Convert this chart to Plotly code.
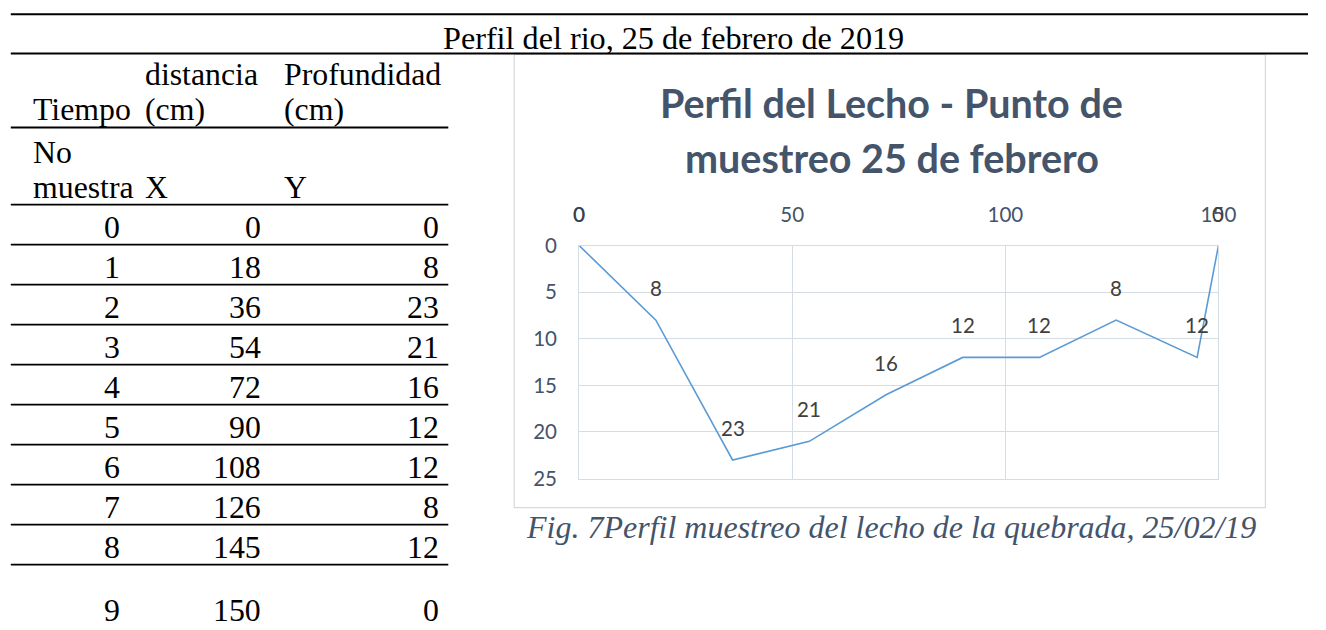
import plotly.graph_objects as go

# ---------------- data ----------------
muestra = [0, 1, 2, 3, 4, 5, 6, 7, 8, 9]
distancia = [0, 18, 36, 54, 72, 90, 108, 126, 145, 150]
profundidad = [0, 8, 23, 21, 16, 12, 12, 8, 12, 0]
x_ticks = [0, 50, 100, 150]
y_ticks = [0, 5, 10, 15, 20, 25]

page_title = "Perfil del rio, 25 de febrero de 2019"
chart_title_lines = ["Perfil del Lecho - Punto de", "muestreo 25 de febrero"]
caption = "Fig. 7Perfil muestreo del lecho de la quebrada, 25/02/19"
header_lines = [
    ["", "distancia", "Profundidad"],
    ["Tiempo", "(cm)", "(cm)"],
    ["No", "", ""],
    ["muestra", "X", "Y"],
]

# ---------------- layout constants ----------------
W, H = 1326, 630
# measured mapping page -> photographed picture (picture = A * page + B)
A_X, B_X = 0.983, 5.2
A_Y, B_Y = 0.9617, 13.5
SERIF = "Liberation Serif, Times New Roman, serif"
SANS = "Lato, Carlito, Calibri, sans-serif"
SLATE = "#44546A"
LABEL = "#404040"
GRID = "#D6DCE4"
LINE_BLUE = "#5B9BD5"


def px(x):
    return ((x - B_X) / A_X) / W


def py(y):
    return 1 - ((y - B_Y) / A_Y) / H


fig = go.Figure()

# ---- chart ----
fig.add_trace(go.Scatter(
    x=distancia, y=profundidad, mode="lines",
    line=dict(color=LINE_BLUE, width=1.6),
    hoverinfo="x+y", showlegend=False,
))

annotations = []
for xv, yv in zip(distancia, profundidad):
    annotations.append(dict(
        x=xv, y=yv, xref="x", yref="y", text=str(yv), showarrow=False,
        yshift=32, xanchor="center", yanchor="middle",
        font=dict(family=SANS, size=20.5, color=LABEL),
    ))

for i, line in enumerate(chart_title_lines):
    annotations.append(dict(
        x=px(892), y=py(103 + 55 * i), xref="paper", yref="paper",
        text=line, showarrow=False, xanchor="center", yanchor="middle",
        font=dict(family=SANS, size=39.5, color=SLATE, weight="bold"),
    ))

annotations.append(dict(
    x=px(891), y=py(527), xref="paper", yref="paper",
    text="<i>" + caption + "</i>", showarrow=False,
    xanchor="center", yanchor="middle",
    font=dict(family=SERIF, size=32, color=SLATE),
))

annotations.append(dict(
    x=px(673), y=py(38), xref="paper", yref="paper",
    text=page_title, showarrow=False, xanchor="center", yanchor="middle",
    font=dict(family=SERIF, size=32.2, color="black"),
))

# ---- table ----
col_left = [30, 142, 282]
col_right = [121, 262, 441]
header_y = [75, 110, 153, 188]
for r, row in enumerate(header_lines):
    for c, txt in enumerate(row):
        if txt:
            annotations.append(dict(
                x=px(col_left[c]), y=py(header_y[r]), xref="paper", yref="paper",
                text=txt, showarrow=False, xanchor="left", yanchor="middle",
                font=dict(family=SERIF, size=31.8, color="black"),
            ))

row0_y, row_h, last_gap = 228, 40, 23
for i, (m, d, p) in enumerate(zip(muestra, distancia, profundidad)):
    yc = row0_y + row_h * i + (last_gap if i == len(muestra) - 1 else 0)
    for c, val in enumerate([m, d, p]):
        annotations.append(dict(
            x=px(col_right[c]), y=py(yc), xref="paper", yref="paper",
            text=str(val), showarrow=False, xanchor="right", yanchor="middle",
            font=dict(family=SERIF, size=31.8, color="black"),
        ))

shapes = []
for yl in [14.8, 54]:
    shapes.append(dict(type="line", xref="paper", yref="paper",
                       x0=px(10), x1=1, y0=py(yl), y1=py(yl),
                       line=dict(color="black", width=2)))
table_rules = [128, 205] + [245 + row_h * i for i in range(len(muestra) - 1)]
for yl in table_rules:
    shapes.append(dict(type="line", xref="paper", yref="paper",
                       x0=px(10), x1=px(448), y0=py(yl), y1=py(yl),
                       line=dict(color="black", width=1.8)))
shapes.append(dict(type="rect", xref="paper", yref="paper",
                   x0=px(514), x1=px(1266), y0=py(508), y1=py(55),
                   line=dict(color="#D9D9D9", width=1.2), fillcolor="rgba(0,0,0,0)",
                   layer="below"))

fig.update_layout(
    width=W, height=H, autosize=False,
    margin=dict(l=0, r=0, t=0, b=0),
    paper_bgcolor="white", plot_bgcolor="white",
    annotations=annotations, shapes=shapes,
    xaxis=dict(
        domain=[px(579), px(1219)], range=[0, 150], side="top",
        tickmode="array", tickvals=x_ticks, ticktext=[str(v) for v in x_ticks],
        showgrid=True, gridcolor=GRID, gridwidth=1.3, zeroline=False,
        showline=True, linecolor=GRID, linewidth=1.3, mirror=True,
        ticks="outside", ticklen=14, tickcolor="rgba(0,0,0,0)",
        tickfont=dict(family=SANS, size=20.5, color=SLATE),
        fixedrange=True,
    ),
    yaxis=dict(
        domain=[py(479), py(246)], range=[25, 0],
        tickmode="array", tickvals=y_ticks, ticktext=[str(v) for v in y_ticks],
        showgrid=True, gridcolor=GRID, gridwidth=1.3, zeroline=False,
        showline=True, linecolor=GRID, linewidth=1.3, mirror=True,
        ticks="outside", ticklen=17, tickcolor="rgba(0,0,0,0)",
        tickfont=dict(family=SANS, size=20.5, color=SLATE),
        fixedrange=True,
    ),
)

fig.write_html("out.html", config={"displayModeBar": False},
               post_script="document.body.style.margin='0';")
